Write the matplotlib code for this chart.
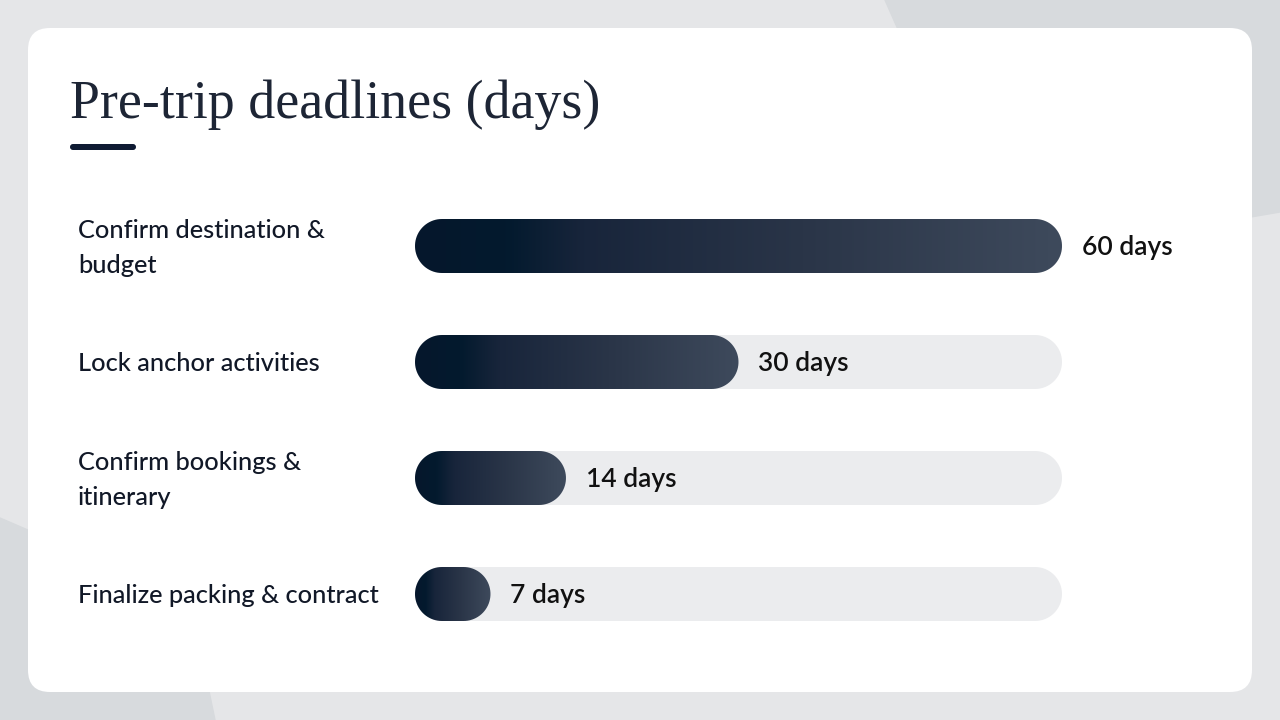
import numpy as np
import matplotlib.pyplot as plt
from matplotlib.patches import FancyBboxPatch, Polygon, PathPatch
from matplotlib.path import Path
from matplotlib.colors import LinearSegmentedColormap
import matplotlib.transforms as mtransforms

tasks = ["Confirm destination &\nbudget", "Lock anchor activities",
         "Confirm bookings &\nitinerary", "Finalize packing & contract"]
days = [60, 30, 14, 7]
max_days = 60
title = "Pre-trip deadlines (days)"

W, H = 1280, 720
fig = plt.figure(figsize=(W / 100, H / 100), dpi=100)

# background + card, in pixel coords
bg = fig.add_axes([0, 0, 1, 1])
bg.set_xlim(0, W)
bg.set_ylim(H, 0)
bg.axis("off")
bg.add_patch(plt.Rectangle((0, 0), W, H, color="#e5e6e8", zorder=0))
bg.add_patch(Polygon([(885, 0), (W, 0), (W, 212), (1000, 260)], color="#d7dadd", zorder=0.5))
bg.add_patch(Polygon([(0, 518), (190, 600), (215, H), (0, H)], color="#d7dadd", zorder=0.5))
bg.add_patch(FancyBboxPatch((28, 28), 1224, 664, boxstyle="round,pad=0,rounding_size=22",
                            fc="white", ec="none", zorder=1))
bg.text(70, 118, title, fontsize=38.8, family="Liberation Serif", color="#1d2535", zorder=2)
bg.add_patch(FancyBboxPatch((70, 144), 66, 6, boxstyle="round,pad=0,rounding_size=3",
                            fc="#0f1b33", ec="none", zorder=2))

# bar axes: x in days, rows 116 px apart
x0, x1 = 415, 1062
y_top, y_bot = 188, 652
ax = fig.add_axes([x0 / W, 1 - y_bot / H, (x1 - x0) / W, (y_bot - y_top) / H])
ax.set_xlim(0, max_days)
ax.set_ylim(len(tasks), 0)
ax.axis("off")

px_x = max_days / (x1 - x0)
px_y = len(tasks) / (y_bot - y_top)
bar_h = 54 * px_y
rad_x = 27 * px_x


def pill(x_end, yc):
    # stadium shape from 0 to x_end with true semicircle ends
    t = np.linspace(-np.pi / 2, np.pi / 2, 40)
    right = np.column_stack([x_end - rad_x + rad_x * np.cos(t), yc + bar_h / 2 * np.sin(t)])
    left = np.column_stack([rad_x - rad_x * np.cos(t), yc - bar_h / 2 * np.sin(t)])
    pts = np.vstack([right, left, right[:1]])
    codes = [Path.MOVETO] + [Path.LINETO] * (len(pts) - 2) + [Path.CLOSEPOLY]
    return Path(pts, codes)


cmap = LinearSegmentedColormap.from_list(
    "navy", [(0, "#06172c"), (0.14, "#031a2e"), (0.26, "#18253b"), (0.6, "#2a3548"), (1, "#3e4a5c")])
grad = np.linspace(0, 1, 256).reshape(1, -1)

lbl_tr = mtransforms.blended_transform_factory(bg.transData, ax.transData)

for i, (t, d) in enumerate(zip(tasks, days)):
    yc = i + 0.5
    ax.add_patch(PathPatch(pill(max_days, yc), fc="#ebecee", ec="none", zorder=1))
    bar = PathPatch(pill(d, yc), fc="none", ec="none", zorder=2)
    ax.add_patch(bar)
    im = ax.imshow(grad, cmap=cmap, aspect="auto", extent=(0, d, yc + bar_h / 2, yc - bar_h / 2),
                   zorder=2, interpolation="bilinear")
    im.set_clip_path(bar)
    ax.text(d + 20 * px_x, yc + 9 * px_y, f"{d} days", ha="left", va="baseline", fontsize=19,
            family="Lato", weight="semibold", color="#111111", zorder=3)
    if "\n" in t:
        ax.text(78, yc + 2 * px_y, t, transform=lbl_tr, ha="left", va="center", fontsize=18.3,
                family="Lato", weight="medium", color="#111827", linespacing=1.62, zorder=3)
    else:
        ax.text(78, yc + 9 * px_y, t, transform=lbl_tr, ha="left", va="baseline", fontsize=18.3,
                family="Lato", weight="medium", color="#111827", zorder=3)

ax.set_xlim(0, max_days)
ax.set_ylim(len(tasks), 0)

fig.savefig("out.png", dpi=100)
